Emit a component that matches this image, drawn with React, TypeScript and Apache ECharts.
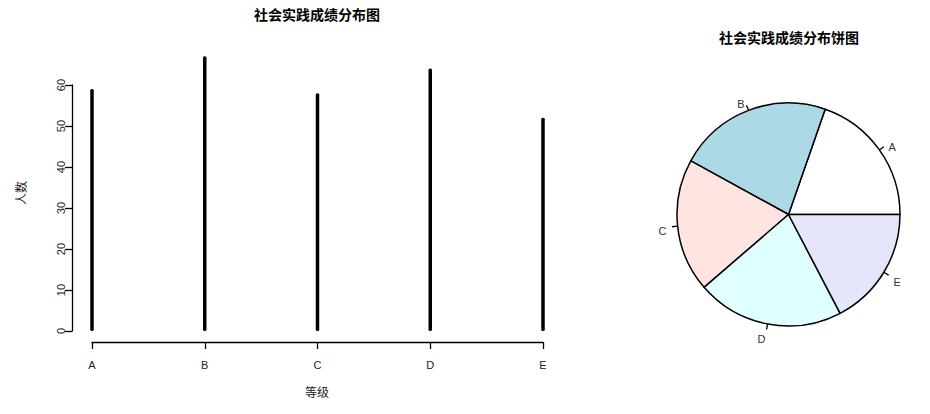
import React, { useEffect, useRef } from "react";
import * as echarts from "echarts";

const grades = ["A", "B", "C", "D", "E"];
const counts = [59, 67, 58, 64, 52];
const yTicks = { min: 0, max: 60, interval: 10 };
const pieColors = ["#FFFFFF", "#ADD8E6", "#FFE4E1", "#E0FFFF", "#E6E6FA"];
const barTitle = "社会实践成绩分布图";
const pieTitle = "社会实践成绩分布饼图";
const xName = "等级";
const yName = "人数";

const FONT = '"Liberation Sans", "Noto Sans CJK SC", sans-serif';

const PIE_CX = 788.5;
const PIE_CY = 214.5;
const PIE_R = 111.5;

export default function App() {
  const ref = useRef<HTMLDivElement>(null);
  useEffect(() => {
    document.body.style.margin = "0";
    const chart = echarts.init(ref.current!, null, { renderer: "svg" });
    const total = counts.reduce((a, b) => a + b, 0);
    const midAngles: number[] = [];
    let acc = 0;
    counts.forEach((c) => {
      midAngles.push(((acc + c / 2) / total) * Math.PI * 2);
      acc += c;
    });
    chart.setOption({
      animation: false,
      backgroundColor: "#fff",
      textStyle: { fontFamily: FONT },
      grid: { left: 92, right: 930 - 543, top: 85, bottom: 414 - 331, containLabel: false },
      xAxis: {
        type: "category",
        data: grades,
        boundaryGap: false,
        offset: 11,
        axisLine: { onZero: false, lineStyle: { color: "#000", width: 1.3 } },
        axisTick: { length: 7, lineStyle: { color: "#000", width: 1.3 }, alignWithLabel: true },
        axisLabel: { color: "#222", fontSize: 11, margin: 17, fontFamily: FONT },
        splitLine: { show: false },
      },
      yAxis: {
        type: "value",
        min: yTicks.min,
        max: yTicks.max,
        interval: yTicks.interval,
        offset: 20,
        axisLine: { show: true, onZero: false, lineStyle: { color: "#000", width: 1.3 } },
        axisTick: { show: true, length: 7, lineStyle: { color: "#000", width: 1.3 } },
        axisLabel: { color: "#222", fontSize: 11, rotate: 90, margin: 6, fontFamily: FONT },
        splitLine: { show: false },
      },
      series: [
        {
          type: "bar",
          data: counts,
          barWidth: 3.5,
          clip: false,
          itemStyle: { color: "#000", borderRadius: 1.5 },
        },
        {
          type: "pie",
          center: [PIE_CX, PIE_CY],
          radius: PIE_R,
          startAngle: 0,
          clockwise: false,
          data: grades.map((g, i) => ({
            name: g,
            value: counts[i],
            itemStyle: { color: pieColors[i] },
          })),
          itemStyle: { borderColor: "#000", borderWidth: 1.5 },
          label: {
            show: true,
            position: "outside",
            formatter: "{b}",
            color: "#333",
            fontSize: 11,
            fontFamily: FONT,
          },
          labelLine: {
            show: true,
            length: 6,
            length2: 0,
            smooth: false,
            lineStyle: { color: "#000", width: 1.3 },
          },
          labelLayout: (params: any) => {
            const a = midAngles[params.dataIndex];
            const cos = Math.cos(a);
            const sin = Math.sin(a);
            const p = (k: number) => [PIE_CX + k * PIE_R * cos, PIE_CY - k * PIE_R * sin];
            const lp = p(1.1);
            const l1 = p(1.0);
            const l2 = p(1.05);
            return {
              x: lp[0],
              y: lp[1] + 4,
              align: cos < 0 ? "right" : "left",
              verticalAlign: "middle",
              labelLinePoints: [l1, l2, l2],
            };
          },
          emphasis: { disabled: true },
        },
      ],
      graphic: [
        {
          type: "text",
          x: 317,
          y: 15,
          style: { text: barTitle, align: "center", verticalAlign: "middle", font: `bold 14px ${FONT}`, fill: "#000" },
        },
        {
          type: "text",
          x: 789,
          y: 38,
          style: { text: pieTitle, align: "center", verticalAlign: "middle", font: `bold 14px ${FONT}`, fill: "#000" },
        },
        {
          type: "text",
          x: 317,
          y: 393,
          style: { text: xName, align: "center", verticalAlign: "middle", font: `12px ${FONT}`, fill: "#222" },
        },
        {
          type: "text",
          x: 22,
          y: 193,
          rotation: Math.PI / 2,
          style: { text: yName, align: "center", verticalAlign: "middle", font: `12px ${FONT}`, fill: "#222" },
        },
      ],
    });
    return () => chart.dispose();
  }, []);
  return <div ref={ref} style={{ width: 930, height: 414 }} />;
}
